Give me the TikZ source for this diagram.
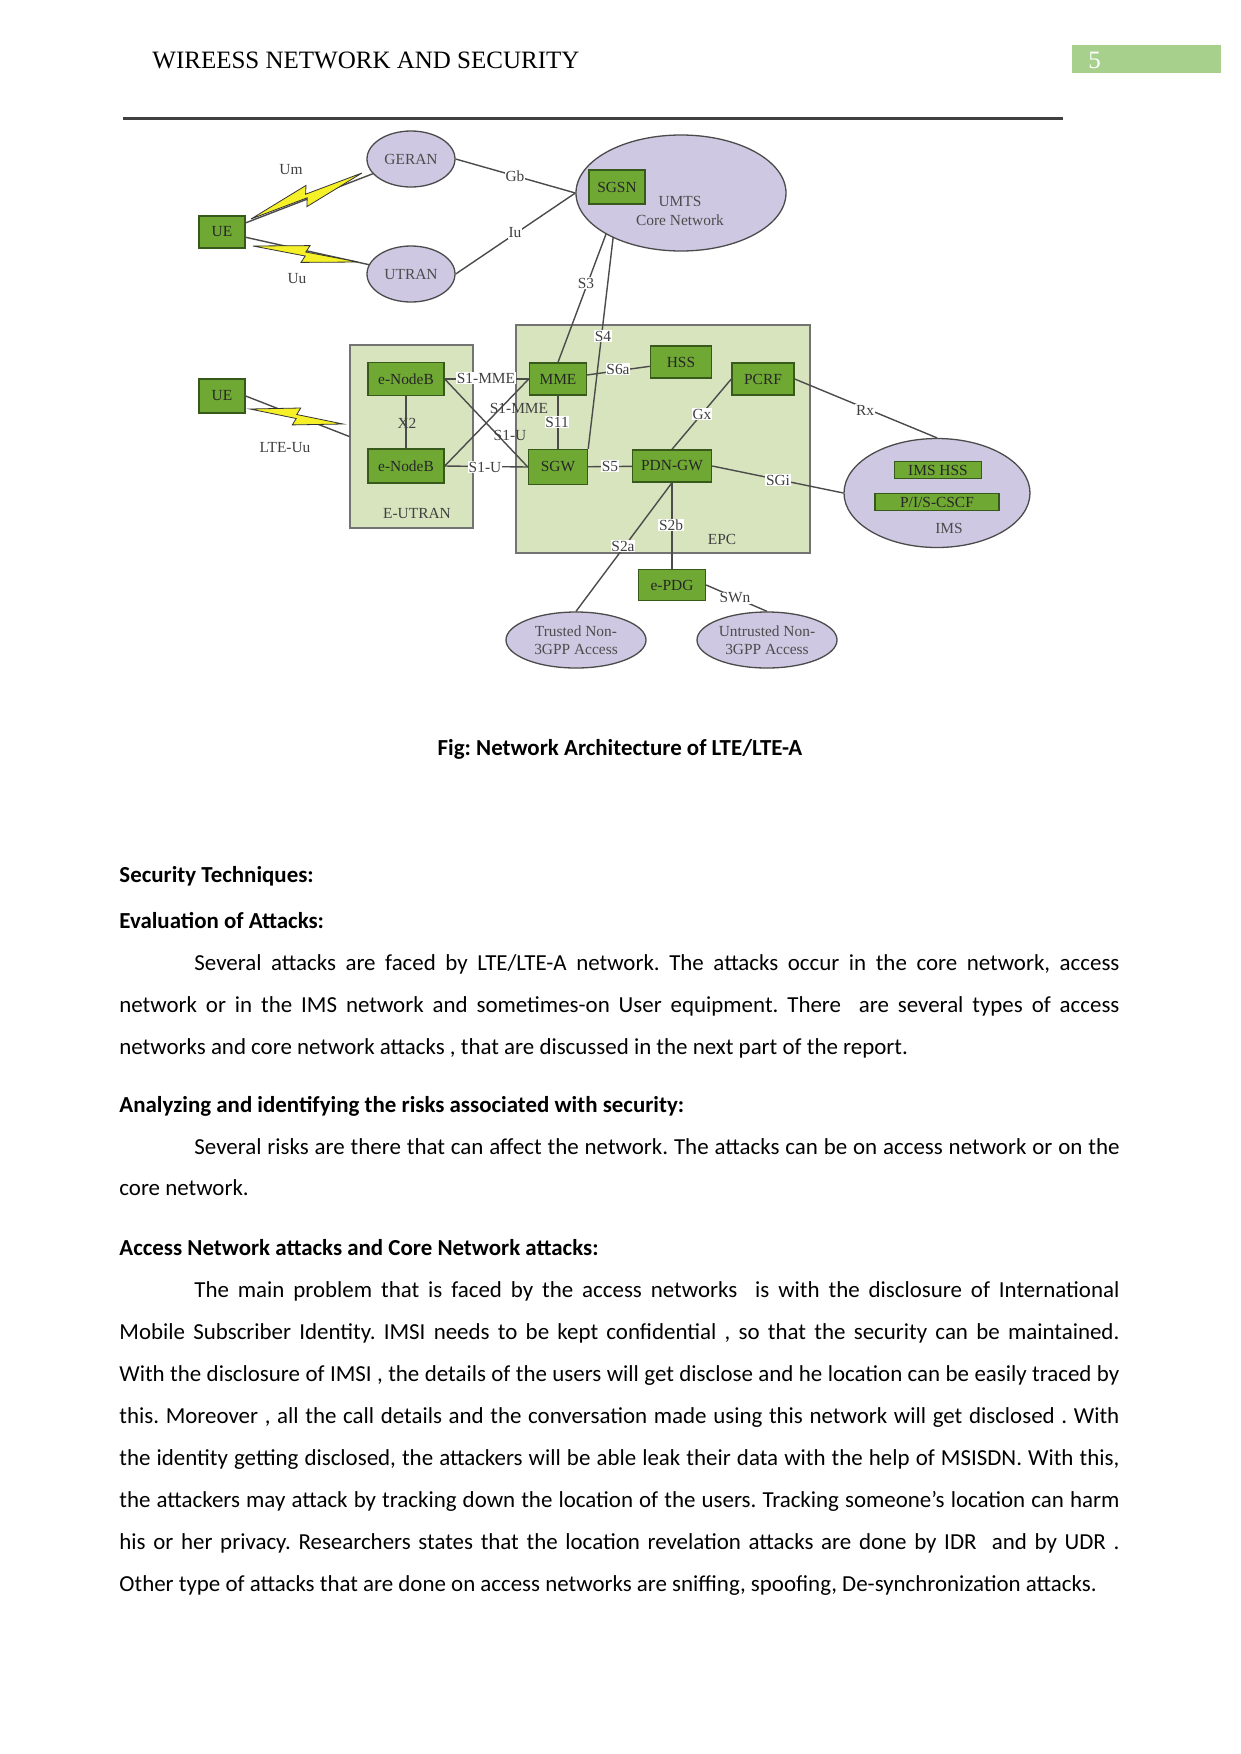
\documentclass[tikz,border=0pt]{standalone}
\usepackage{fontspec}
\setmainfont{Carlito}
\newfontfamily\tms{Liberation Serif}
\usetikzlibrary{shapes.geometric,calc}
\newlength\pu \setlength\pu{0.48pt}
\definecolor{boxg}{RGB}{112,168,52}
\definecolor{boxgd}{RGB}{55,90,28}
\definecolor{lav}{RGB}{207,200,226}
\definecolor{contc}{RGB}{215,228,190}
\definecolor{lnc}{RGB}{75,75,75}
\definecolor{hdrg}{RGB}{168,208,141}
\definecolor{boltc}{RGB}{245,240,40}
\pgfdeclarelayer{back}\pgfdeclarelayer{bg}\pgfsetlayers{back,bg,main}
\newcommand\dfont{\tms\fontsize{7.4}{8.4}\selectfont}
\frenchspacing
\begin{document}
\begin{tikzpicture}[x=\pu,y=-\pu,
  gbox/.style={draw=boxgd, fill=boxg, line width=1.4\pu, inner sep=0, font=\dfont, text=black!85},
  ell/.style={ellipse, draw=lnc, fill=lav, line width=1.3\pu, inner sep=0, font=\dfont, text=black!70},
  contbox/.style={draw=black!55, fill=contc, line width=1.3\pu, inner sep=0},
  conn/.style={draw=lnc, line width=1.4\pu},
  lbl/.style={font=\dfont, text=black!75, inner sep=0.6\pu},
  wlbl/.style={lbl, fill=white},
  boltst/.style={fill=boltc, draw=black!80, line width=0.8\pu, line join=miter},
  bodyl/.style={font=\fontsize{11}{13}\selectfont, anchor=base west, inner sep=0},
  headl/.style={font=\bfseries\fontsize{11}{13}\selectfont, anchor=base west, inner sep=0}]
\begin{pgfonlayer}{back}
\fill[white] (0,0) rectangle (1241,1754);
\end{pgfonlayer}
\useasboundingbox (0,0) rectangle (1241,1754);

% header
\node[anchor=base west, font=\tms\fontsize{12}{14}\selectfont, inner sep=0] (hdr) at (152,68) {WIREESS NETWORK AND SECURITY};
\node[fill=hdrg, minimum width=149\pu, minimum height=28\pu, inner sep=0] (pgbox) at (1146.5,59) {};
\node[anchor=base west, font=\tms\fontsize{12}{14}\selectfont, inner sep=0, text=white] (pgnum) at (1088,68) {5};
\coordinate (r1) at (123,118.5);
\coordinate (r2) at (1063,118.5);
\draw[line width=3\pu, black!75] (r1) -- (r2);

% containers
\begin{pgfonlayer}{back}
\node[contbox, minimum width=123\pu, minimum height=183\pu] (eutran) at (411.5,436.5) {};
\node[contbox, minimum width=294\pu, minimum height=228\pu] (epc) at (663,439) {};
\end{pgfonlayer}

% ellipses
\node[ell, minimum width=88\pu, minimum height=56\pu] (geran) at (411,159) {GERAN};
\node[ell, minimum width=88\pu, minimum height=56\pu] (utran) at (411,274) {UTRAN};
\node[ell, minimum width=210\pu, minimum height=116\pu] (umts) at (681,193) {};
\node[ell, minimum width=186\pu, minimum height=109\pu] (ims) at (937,493) {};
\node[ell, minimum width=140\pu, minimum height=56\pu, align=center] (trusted) at (576,640) {Trusted Non-\\3GPP Access};
\node[ell, minimum width=140\pu, minimum height=56\pu, align=center] (untrusted) at (767,640) {Untrusted Non-\\3GPP Access};

% boxes
\node[gbox, minimum width=46\pu, minimum height=32\pu] (ue1) at (222,232) {UE};
\node[gbox, minimum width=46\pu, minimum height=34\pu] (ue2) at (222,396) {UE};
\node[gbox, minimum width=56\pu, minimum height=34\pu] (sgsn) at (617,187) {SGSN};
\node[gbox, minimum width=76\pu, minimum height=33\pu] (enb1) at (406,379) {e-NodeB};
\node[gbox, minimum width=76\pu, minimum height=34\pu] (enb2) at (406,466) {e-NodeB};
\node[gbox, minimum width=57\pu, minimum height=32\pu] (mme) at (558,379) {MME};
\node[gbox, minimum width=61\pu, minimum height=32\pu] (hss) at (681,362) {HSS};
\node[gbox, minimum width=62\pu, minimum height=32\pu] (pcrf) at (763,379) {PCRF};
\node[gbox, minimum width=59\pu, minimum height=35\pu] (sgw) at (558,467) {SGW};
\node[gbox, minimum width=79\pu, minimum height=32\pu] (pdngw) at (672,466) {PDN-GW};
\node[gbox, minimum width=67\pu, minimum height=31\pu] (epdg) at (672,585) {e-PDG};
\node[gbox, minimum width=87\pu, minimum height=17\pu] (imshss) at (938,470) {IMS HSS};
\node[gbox, minimum width=124\pu, minimum height=17\pu] (cscf) at (937,502) {P/I/S-CSCF};

% texts inside ellipses / containers
\node[lbl, text=black!70] (umtsa) at (680,201) {UMTS};
\node[lbl, text=black!70] (umtsb) at (680,220) {Core Network};
\node[lbl, text=black!70] (imsl) at (949,528) {IMS};
\node[lbl] (eutranl) at (417,513) {E-UTRAN};
\node[lbl] (epcl) at (722,539) {EPC};

% connectors
\begin{pgfonlayer}{bg}
\draw[conn] (ue1) -- (geran);
\draw[conn] (ue1) -- (utran);
\draw[conn] (ue2.east) -- (eutran.west);
\draw[conn] (geran.east) -- (umts.west);
\draw[conn] (utran.east) -- (umts.west);
\draw[conn] (sgsn.south) -- (mme.north);
\draw[conn] (sgsn.south) -- (sgw.north east);
\draw[conn] (enb1.east) -- (mme.west);
\draw[conn] (enb1.east) -- (sgw.west);
\draw[conn] (enb2.east) -- (mme.west);
\draw[conn] (enb2.east) -- (sgw.west);
\draw[conn] (enb1) -- (enb2);
\draw[conn] (mme) -- (sgw);
\draw[conn] (mme) -- (hss);
\draw[conn] (sgw) -- (pdngw);
\draw[conn] (pdngw.north) -- (pcrf.west);
\draw[conn] (pcrf.east) -- (ims.north);
\draw[conn] (pdngw.east) -- (ims.west);
\draw[conn] (pdngw.south) -- (epdg.north);
\draw[conn] (pdngw.south) -- (trusted.north);
\draw[conn] (epdg.east) -- (untrusted.north);
\draw[conn] (imshss) -- (cscf);
\end{pgfonlayer}

% lightning bolts
\draw[boltst] (251,219) -- (306.0,185.4) -- (305.6,194.2) -- (362,173) -- (306.9,206.6) -- (307.2,197.8) -- cycle;
\draw[boltst] (253,246) -- (310.1,245.6) -- (305.8,252.0) -- (358,262) -- (301.0,262.4) -- (305.2,256.0) -- cycle;
\draw[boltst] (250,409) -- (300.7,408.0) -- (296.8,414.5) -- (343,424) -- (292.3,424.9) -- (296.2,418.5) -- cycle;

% connector labels
\node[lbl] (lum) at (291,170) {Um};
\node[lbl] (luu) at (297,279) {Uu};
\node[lbl] (llte) at (285,448) {LTE-Uu};
\node[wlbl] (lgb) at (515,176) {Gb};
\node[wlbl] (liu) at (515,233) {Iu};
\node[wlbl] (ls3) at (586,283) {S3};
\node[wlbl] (ls4) at (603,336) {S4};
\node[wlbl] (ls1a) at (486,378) {S1-MME};
\node[lbl] (ls1b) at (519,408) {S1-MME};
\node[lbl] (ls1c) at (510,435) {S1-U};
\node[wlbl] (ls1d) at (485,467) {S1-U};
\node[lbl] (lx2) at (407,423) {X2};
\node[wlbl] (ls11) at (557,422) {S11};
\node[wlbl] (ls6a) at (618,369) {S6a};
\node[wlbl] (ls5) at (610,466) {S5};
\node[wlbl] (lgx) at (702,414) {Gx};
\node[wlbl] (lrx) at (865,410) {Rx};
\node[wlbl] (lsgi) at (778,480) {SGi};
\node[wlbl] (ls2b) at (671,525) {S2b};
\node[wlbl] (ls2a) at (623,546) {S2a};
\node[wlbl] (lswn) at (735,598) {SWn};

% caption
\node[font=\bfseries\fontsize{11}{13}\selectfont, inner sep=0] (cap) at (620,749) {Fig: Network Architecture of LTE/LTE-A};

% body text
\node[headl] (h1) at (119,882) {Security Techniques:};
\node[headl] (h2) at (119,928) {Evaluation of Attacks:};
\node[bodyl] (p1a) at (194,970) {\makebox[925\pu][s]{Several attacks are faced by LTE/LTE-A network. The attacks occur in the core network, access}};
\node[bodyl] (p1b) at (119,1012) {\makebox[1000\pu][s]{network or in the IMS network and sometimes-on User equipment. There\ \ are several types of access}};
\node[bodyl] (p1c) at (119,1054) {networks and core network attacks , that are discussed in the next part of the report.};
\node[headl] (h3) at (119,1112) {Analyzing and identifying the risks associated with security:};
\node[bodyl] (p2a) at (194,1154) {\makebox[925\pu][s]{Several risks are there that can affect the network. The attacks can be on access network or on the}};
\node[bodyl] (p2b) at (119,1195) {core network.};
\node[headl] (h4) at (119,1255) {Access Network attacks and Core Network attacks:};
\node[bodyl] (p3a) at (194,1297) {\makebox[925\pu][s]{The main problem that is faced by the access networks\ \ is with the disclosure of International}};
\node[bodyl] (p3b) at (119,1339) {\makebox[1000\pu][s]{Mobile Subscriber Identity. IMSI needs to be kept confidential , so that the security can be maintained.}};
\node[bodyl] (p3c) at (119,1381) {\makebox[1000\pu][s]{With the disclosure of IMSI , the details of the users will get disclose and he location can be easily traced by}};
\node[bodyl] (p3d) at (119,1423) {\makebox[1000\pu][s]{this. Moreover , all the call details and the conversation made using this network will get disclosed . With}};
\node[bodyl] (p3e) at (119,1465) {\makebox[1000\pu][s]{the identity getting disclosed, the attackers will be able leak their data with the help of MSISDN. With this,}};
\node[bodyl] (p3f) at (119,1507) {\makebox[1000\pu][s]{the attackers may attack by tracking down the location of the users. Tracking someone’s location can harm}};
\node[bodyl] (p3g) at (119,1549) {\makebox[1000\pu][s]{his or her privacy. Researchers states that the location revelation attacks are done by IDR\ \ and by UDR .}};
\node[bodyl] (p3h) at (119,1591) {Other type of attacks that are done on access networks are sniffing, spoofing, De-synchronization attacks.};
\end{tikzpicture}
\end{document}
